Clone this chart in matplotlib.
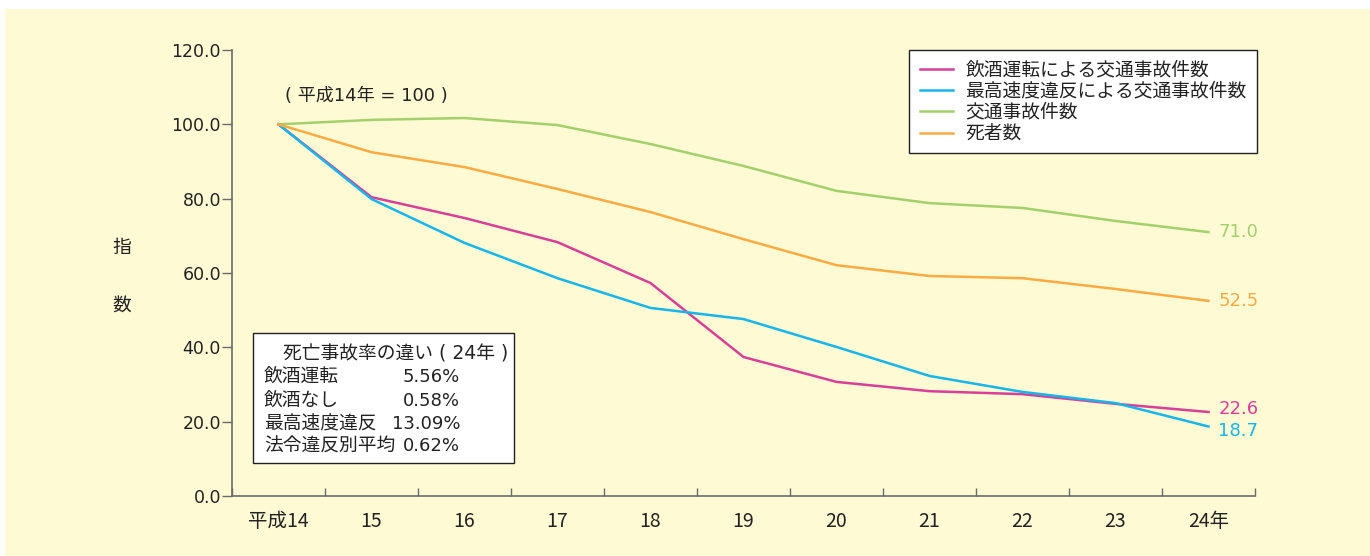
import matplotlib
matplotlib.use("Agg")
import matplotlib.pyplot as plt
from matplotlib.patches import Rectangle

plt.rcParams['font.family'] = ['DejaVu Sans', 'Noto Sans CJK JP']

# data
years = ["平成14", "15", "16", "17", "18", "19", "20", "21", "22", "23", "24年"]
drunk = [100, 80.4, 74.8, 68.3, 57.3, 37.4, 30.7, 28.2, 27.4, 24.8, 22.6]
speeding = [100, 79.9, 68.1, 58.6, 50.6, 47.6, 40.1, 32.3, 28.0, 25.0, 18.7]
accidents = [100, 101.2, 101.7, 99.8, 94.7, 88.8, 82.1, 78.8, 77.5, 74.0, 71.0]
deaths = [100, 92.5, 88.5, 82.6, 76.4, 69.1, 62.1, 59.2, 58.6, 55.7, 52.5]

series = [
    ("飲酒運転による交通事故件数", drunk, "#d83f98"),
    ("最高速度違反による交通事故件数", speeding, "#18b5ea"),
    ("交通事故件数", accidents, "#a3d06c"),
    ("死者数", deaths, "#fbab42"),
]
# small vertical nudges (points) so the end labels don't collide
label_nudge = [2, -3, 0, 0]

rate_labels = ["飲酒運転", "飲酒なし", "最高速度違反", "法令違反別平均"]
rate_values = ["5.56%", "0.58%", "13.09%", "0.62%"]

bg = "#fefad4"
axis_col = "#6b6b6b"
txt = "#222222"
fs = 13
fs_jp = 13.5

fig = plt.figure(figsize=(13.7, 5.56), dpi=100)
fig.patch.set_facecolor("white")
fig.patches.append(Rectangle((5 / 1370, 0), 1 - 5 / 1370, 1 - 9 / 556,
                             transform=fig.transFigure, facecolor=bg,
                             edgecolor="none", zorder=-10))

ax = fig.add_axes([232 / 1370, 60 / 556, 1023 / 1370, 446 / 556])
ax.set_facecolor("none")

x = list(range(len(years)))
for (name, vals, col), dy in zip(series, label_nudge):
    ax.plot(x, vals, color=col, lw=1.8, label=name)
    ax.annotate(f"{vals[-1]:.1f}", (x[-1], vals[-1]), xytext=(7, dy),
                textcoords="offset points", va="center", ha="left",
                color=col, fontsize=fs)

ax.set_xlim(-0.5, len(years) - 0.5)
ax.set_ylim(0, 120)
ax.set_yticks([0, 20, 40, 60, 80, 100, 120])
ax.set_yticklabels([f"{v:.1f}" for v in [0, 20, 40, 60, 80, 100, 120]])
ax.set_xticks(x)
ax.set_xticklabels(years, family=['Liberation Sans Narrow', 'Noto Sans CJK JP'])
ax.set_xticks([i - 0.5 for i in range(len(years) + 1)], minor=True)
ax.tick_params(axis="x", which="major", length=0, pad=11, labelsize=14,
               colors=txt)
ax.tick_params(axis="x", which="minor", direction="in", length=6,
               color=axis_col, width=1)
ax.tick_params(axis="y", direction="out", length=7, color=axis_col, width=1,
               labelsize=12.5, labelcolor=txt, pad=1)

for s in ["top", "right"]:
    ax.spines[s].set_visible(False)
for s in ["left", "bottom"]:
    ax.spines[s].set_color(axis_col)
    ax.spines[s].set_linewidth(1.2)

leg = ax.legend(loc="upper right", bbox_to_anchor=(1.002, 1.0), fontsize=fs_jp,
                frameon=True, fancybox=False, edgecolor=txt, framealpha=1,
                handlelength=1.8, handletextpad=0.65, labelspacing=0.12,
                borderpad=0.55, borderaxespad=0)
leg.get_frame().set_linewidth(1.0)
for t in leg.get_texts():
    t.set_color(txt)

ax.text(0.07, 107.5, "( 平成14年 = 100 )", fontsize=fs, color=txt,
        ha="left", va="center")

# info box
ax.add_patch(Rectangle((0.0205, 0.074), 0.2552, 0.2915, transform=ax.transAxes,
                       facecolor="white", edgecolor=txt, lw=1.0, zorder=3))
ax.text(0.0499, 0.318, "死亡事故率の違い ( 24年 )", transform=ax.transAxes,
        fontsize=fs_jp, color=txt, va="center", ha="left", zorder=4)
rows_y = [0.267, 0.213, 0.161, 0.112]
for lab, val, yy in zip(rate_labels, rate_values, rows_y):
    ax.text(0.0313, yy, lab, transform=ax.transAxes, fontsize=fs_jp,
            color=txt, va="center", ha="left", zorder=4)
    ax.text(0.2229, yy, val, transform=ax.transAxes, fontsize=fs,
            color=txt, va="center", ha="right", zorder=4)

fig.text(122 / 1370, 1 - 247 / 556, "指", fontsize=fs_jp, color=txt,
         ha="center", va="center")
fig.text(122 / 1370, 1 - 305 / 556, "数", fontsize=fs_jp, color=txt,
         ha="center", va="center")

fig.savefig("out.png", dpi=100, facecolor=fig.get_facecolor())
